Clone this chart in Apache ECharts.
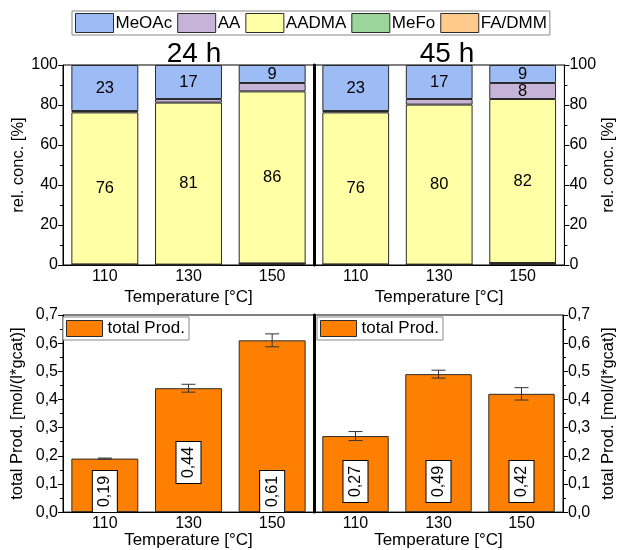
<!DOCTYPE html>
<html>
<head>
<meta charset="utf-8">
<script src="https://cdn.jsdelivr.net/npm/echarts@6/dist/echarts.min.js"></script>
<style>
  html, body { margin: 0; padding: 0; background: #fff; }
  #chart { width: 618px; height: 550px; }
</style>
</head>
<body>
<div id="chart"></div>
<script>
// Reaction temperatures (°C)
const temps = ['110', '130', '150'];

// Relative product concentrations [%] after 24 h
const meoac24 = [23, 17, 9];
const aa24 = [0.7, 1.8, 4.2];
const aadma24 = [76, 81, 86];
const mefo24 = [0, 0, 0];
const fadmm24 = [0.3, 0.2, 0.8];

// Relative product concentrations [%] after 45 h
const meoac45 = [23, 17, 9];
const aa45 = [0.7, 2.8, 8];
const aadma45 = [76, 80, 82];
const mefo45 = [0, 0, 0];
const fadmm45 = [0.3, 0.2, 1.0];

// Total productivity [mol/(l*gcat)] with standard deviation
const total24 = [0.19, 0.44, 0.61];
const err24 = [0.002, 0.014, 0.023];
const total45 = [0.27, 0.49, 0.42];
const err45 = [0.016, 0.014, 0.022];

// Axis ticks
const concTicks = { min: 0, max: 100, interval: 20 };
const prodTicks = { min: 0, max: 0.7, interval: 0.1 };

// Lift of the rotated value boxes above each bar base (px)
const boxLift24 = [0, 29, 0];
const boxLift45 = [10, 10, 10];

const FONT = 'Liberation Sans, Arial, sans-serif';
const COLORS = {
  'MeOAc': '#9dbbf5',
  'AA': '#c6b4d8',
  'AADMA': '#ffffa6',
  'MeFo': '#9cd59b',
  'FA/DMM': '#ffca8c',
  'total Prod.': '#ff8000'
};
const EDGE = '#2b2b2b';

const chart = echarts.init(document.getElementById('chart'), null, { renderer: 'canvas' });

const comma = (v, d) => v.toFixed(d).replace('.', ',');

function yAxisBase(grid, ticks, pos, fmt, name, gap) {
  return {
    type: 'value', gridIndex: grid, position: pos,
    min: ticks.min, max: ticks.max, interval: ticks.interval,
    axisLine: { show: true, lineStyle: { color: '#000', width: 1 } },
    axisTick: { show: true, inside: false, length: 5, lineStyle: { color: '#000' } },
    minorTick: { show: true, splitNumber: 2, length: 3, lineStyle: { color: '#000' } },
    splitLine: { show: false },
    axisLabel: { color: '#000', fontSize: 16, fontFamily: FONT, margin: 5, formatter: fmt },
    name: name, nameLocation: 'middle', nameGap: gap,
    nameTextStyle: { color: '#000', fontSize: 16.5, fontFamily: FONT }
  };
}

function divider(grid, ticks) {
  return {
    type: 'value', gridIndex: grid, position: 'left',
    min: ticks.min, max: ticks.max, interval: ticks.interval,
    axisLine: { show: true, lineStyle: { color: '#000', width: 3 } },
    axisTick: { show: false }, axisLabel: { show: false }, splitLine: { show: false }
  };
}

function xAxisBase(grid, labelMargin, nameGap) {
  return {
    type: 'category', gridIndex: grid, data: temps,
    axisLine: { show: true, lineStyle: { color: '#000' } },
    axisTick: { show: false },
    axisLabel: { color: '#000', fontSize: 16, fontFamily: FONT, margin: labelMargin },
    name: 'Temperature [°C]', nameLocation: 'middle', nameGap: nameGap,
    nameTextStyle: { color: '#000', fontSize: 17, fontFamily: FONT }
  };
}

// Stacked concentration bars, bottom to top
function stackSeries(grid, yIdx, stackId, sets) {
  return sets.map(([name, data, labelRule]) => ({
    type: 'bar', name: name, stack: stackId,
    xAxisIndex: grid, yAxisIndex: yIdx,
    data: data, barCategoryGap: '20%',
    itemStyle: { color: COLORS[name], borderColor: EDGE, borderWidth: 1 },
    label: {
      show: !!labelRule, position: 'inside', color: '#000',
      fontSize: 16.5, fontFamily: FONT,
      formatter: p => (labelRule && labelRule(p.value)) ? String(p.value) : ''
    },
    emphasis: { disabled: true }
  }));
}

function stackSets(fa, mf, aadma, aa, meoac) {
  return [
    ['FA/DMM', fa, null],
    ['MeFo', mf, null],
    ['AADMA', aadma, () => true],
    ['AA', aa, v => v >= 5],
    ['MeOAc', meoac, () => true]
  ];
}

function totalSeries(grid, yIdx, values, lifts) {
  return {
    type: 'bar', name: 'total Prod.',
    xAxisIndex: grid, yAxisIndex: yIdx, barCategoryGap: '20%',
    data: values.map((v, i) => ({ value: v, label: { distance: lifts[i] } })),
    itemStyle: { color: COLORS['total Prod.'], borderColor: EDGE, borderWidth: 1 },
    label: {
      show: true, position: 'insideBottom', rotate: 90,
      align: 'left', verticalAlign: 'middle',
      color: '#000', fontSize: 16, fontFamily: FONT, lineHeight: 16,
      backgroundColor: '#fff', borderColor: '#000', borderWidth: 1,
      padding: [4, 5, 4, 5],
      formatter: p => comma(p.value, 2)
    },
    emphasis: { disabled: true },
    z: 2
  };
}

function errorSeries(grid, yIdx, values, errs) {
  return {
    type: 'custom', name: 'sd', xAxisIndex: grid, yAxisIndex: yIdx,
    data: values.map((v, i) => [i, v, errs[i]]),
    encode: { x: 0, y: 1 },
    z: 5, silent: true,
    renderItem: (params, api) => {
      const i = api.value(0), v = api.value(1), e = api.value(2);
      const hi = api.coord([i, v + e]);
      const lo = api.coord([i, v - e]);
      const w = 7;
      const st = { stroke: '#333', lineWidth: 1 };
      return {
        type: 'group', children: [
          { type: 'line', shape: { x1: hi[0], y1: hi[1], x2: lo[0], y2: lo[1] }, style: st },
          { type: 'line', shape: { x1: hi[0] - w, y1: hi[1], x2: hi[0] + w, y2: hi[1] }, style: st },
          { type: 'line', shape: { x1: lo[0] - w, y1: lo[1], x2: lo[0] + w, y2: lo[1] }, style: st }
        ]
      };
    }
  };
}

const gridStyle = { show: true, borderColor: '#000', borderWidth: 1, backgroundColor: 'transparent' };

const option = {
  animation: false,
  backgroundColor: '#fff',
  textStyle: { fontFamily: FONT },
  title: [
    { text: '24 h', left: 189, top: 35, textAlign: 'center',
      textStyle: { fontSize: 28, fontWeight: 'normal', color: '#000', fontFamily: FONT } },
    { text: '45 h', left: 442, top: 35, textAlign: 'center',
      textStyle: { fontSize: 28, fontWeight: 'normal', color: '#000', fontFamily: FONT } }
  ],
  legend: [
    {
      data: ['MeOAc', 'AA', 'AADMA', 'MeFo', 'FA/DMM'],
      left: 72, top: 11, orient: 'horizontal',
      icon: 'rect', itemWidth: 38, itemHeight: 19, itemGap: 5,
      padding: [2, 3, 2, 3],
      borderColor: '#888', borderWidth: 1,
      itemStyle: { borderColor: EDGE, borderWidth: 1 },
      textStyle: { color: '#000', fontSize: 17, fontFamily: FONT, padding: [0, 0, 0, -3] },
      selectedMode: false
    },
    {
      data: ['total Prod.'], left: 63, top: 317,
      icon: 'rect', itemWidth: 36, itemHeight: 16,
      padding: [3, 4, 3, 3],
      borderColor: '#888', borderWidth: 1, backgroundColor: '#fff',
      itemStyle: { borderColor: EDGE, borderWidth: 1 },
      textStyle: { color: '#000', fontSize: 17, fontFamily: FONT },
      selectedMode: false
    },
    {
      data: ['total Prod.'], left: 317, top: 317,
      icon: 'rect', itemWidth: 36, itemHeight: 16,
      padding: [3, 4, 3, 3],
      borderColor: '#888', borderWidth: 1, backgroundColor: '#fff',
      itemStyle: { borderColor: EDGE, borderWidth: 1 },
      textStyle: { color: '#000', fontSize: 17, fontFamily: FONT },
      selectedMode: false
    }
  ],
  grid: [
    Object.assign({ left: 63, right: 304, top: 65, height: 200 }, gridStyle),
    Object.assign({ left: 314, right: 51, top: 65, height: 200 }, gridStyle),
    Object.assign({ left: 63, right: 304, top: 315, height: 201 }, gridStyle),
    Object.assign({ left: 314, right: 51, top: 315, height: 201 }, gridStyle)
  ],
  xAxis: [
    xAxisBase(0, 4, 24),
    xAxisBase(1, 4, 24),
    xAxisBase(2, 3, 18),
    xAxisBase(3, 3, 18)
  ],
  yAxis: [
    yAxisBase(0, concTicks, 'left', v => String(v), 'rel. conc. [%]', 31),
    yAxisBase(1, concTicks, 'right', v => String(v), 'rel. conc. [%]', 31),
    divider(1, concTicks),
    yAxisBase(2, prodTicks, 'left', v => comma(v, 1), 'total Prod. [mol/(l*gcat)]', 37),
    yAxisBase(3, prodTicks, 'right', v => comma(v, 1), 'total Prod. [mol/(l*gcat)]', 37),
    divider(3, prodTicks)
  ],
  series: [
    ...stackSeries(0, 0, 'h24', stackSets(fadmm24, mefo24, aadma24, aa24, meoac24)),
    ...stackSeries(1, 1, 'h45', stackSets(fadmm45, mefo45, aadma45, aa45, meoac45)),
    totalSeries(2, 3, total24, boxLift24),
    totalSeries(3, 4, total45, boxLift45),
    errorSeries(2, 3, total24, err24),
    errorSeries(3, 4, total45, err45)
  ]
};

chart.setOption(option);
</script>
</body>
</html>
